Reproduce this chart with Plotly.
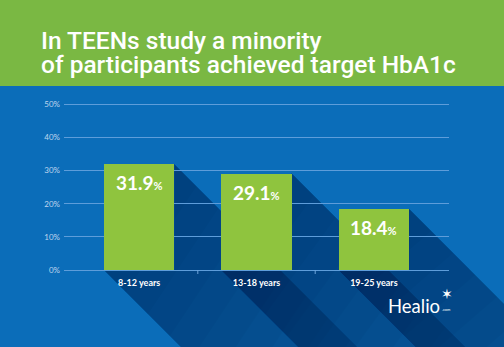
import plotly.graph_objects as go

categories = ["8-12 years", "13-18 years", "19-25 years"]
values = [31.9, 29.1, 18.4]
y_ticks = [0, 10, 20, 30, 40, 50]
y_ticklabels = ["0%", "10%", "20%", "30%", "40%", "50%"]
title_lines = ["In TEENs study a minority", "of participants achieved target HbA1c"]

W_PX, H_PX = 504, 347
M_L, M_R, M_T, M_B = 64, 55, 101, 77
X_RANGE = [-0.64, 2.64]
Y_RANGE = [0, 51]
BAR_W = 0.6

BLUE = "#0B6DB9"
GREEN_HDR = "#7AB843"

plot_w = W_PX - M_L - M_R
plot_h = H_PX - M_T - M_B


def px_x(v):
    return M_L + (v - X_RANGE[0]) / (X_RANGE[1] - X_RANGE[0]) * plot_w


def px_y(v):
    return M_T + plot_h - (v - Y_RANGE[0]) / (Y_RANGE[1] - Y_RANGE[0]) * plot_h


def pxp(x):
    return (x - M_L) / plot_w


def pyp(y):
    return (H_PX - M_B - y) / plot_h


fig = go.Figure()
fig.add_trace(go.Bar(
    x=categories, y=values, width=BAR_W,
    marker=dict(color="#8FC43E", line=dict(width=0)),
    hoverinfo="skip",
))

shapes = []
# header band
shapes.append(dict(type="rect", xref="paper", yref="paper", x0=pxp(-5), x1=pxp(W_PX + 5),
                   y0=pyp(86), y1=pyp(-5), fillcolor=GREEN_HDR, line=dict(width=0), layer="below"))


def shadow_path(i, v, d):
    x0 = px_x(i - BAR_W / 2)
    x1 = px_x(i + BAR_W / 2)
    yt = px_y(v)
    yb = px_y(0)
    pts = [(x1, yt), (x1 + d, yt + d), (x0 + d, yb + d), (x0, yb), (x1, yb)]
    return "M " + " L ".join(f"{pxp(a):.5f},{pyp(b):.5f}" for a, b in pts) + " Z"


# diagonal fading shadows (extrusions of each bar toward the lower right)
for i, v in enumerate(values):
    shapes.append(dict(type="path", xref="paper", yref="paper", path=shadow_path(i, v, 600),
                       fillcolor="rgba(4,25,70,0.18)", line=dict(width=0), layer="below"))
    for k in range(1, 11):
        shapes.append(dict(type="path", xref="paper", yref="paper", path=shadow_path(i, v, 22 * k),
                           fillcolor="rgba(4,25,70,0.043)", line=dict(width=0), layer="below"))
# small tick marks between categories
for b in [0.5, 1.5]:
    shapes.append(dict(type="line", xref="x", yref="paper", x0=b, x1=b,
                       y0=0, y1=pyp(px_y(0) + 4),
                       line=dict(color="#6FA6DC", width=1)))

annotations = []
# title lines
for line, base in zip(title_lines, [51, 75]):
    annotations.append(dict(text=line, xref="paper", yref="paper", x=pxp(39), y=pyp(base + 6),
                            xanchor="left", yanchor="bottom", showarrow=False,
                            font=dict(family="Roboto", size=24.5, color="white", weight=500)))
# value labels
for c, v in zip(categories, values):
    annotations.append(dict(text=f"{v}<span style='font-size:11px'>%</span>", x=c, y=v, xref="x", yref="y",
                            yanchor="top", yshift=-5, showarrow=False,
                            font=dict(family="Lato", size=19, color="white", weight="bold")))
# Healio logo text
annotations.append(dict(text="Healio", xref="paper", yref="paper", x=pxp(386), y=pyp(306),
                        xanchor="left", yanchor="middle", showarrow=False,
                        font=dict(family="Lato", size=18.5, color="white")))
annotations.append(dict(text="✶", xref="paper", yref="paper", x=pxp(439), y=pyp(294),
                        xanchor="left", yanchor="middle", showarrow=False,
                        font=dict(family="DejaVu Sans", size=14, color="white")))
annotations.append(dict(text=".com", xref="paper", yref="paper", x=pxp(440), y=pyp(309),
                        xanchor="left", yanchor="middle", showarrow=False,
                        font=dict(family="Lato", size=4, color="white")))

fig.update_layout(
    width=W_PX, height=H_PX,
    margin=dict(l=M_L, r=M_R, t=M_T, b=M_B, pad=0),
    paper_bgcolor=BLUE, plot_bgcolor="rgba(0,0,0,0)",
    showlegend=False, bargap=0,
    shapes=shapes, annotations=annotations,
    xaxis=dict(range=X_RANGE, showgrid=False, zeroline=False, showline=False, ticks="",
               ticklabelstandoff=6,
               tickfont=dict(family="Lato", size=9, color="white", weight="bold"), fixedrange=True),
    yaxis=dict(range=Y_RANGE, tickvals=y_ticks, ticktext=y_ticklabels, showgrid=True,
               gridcolor="#5E9DDA", gridwidth=1, zeroline=True, zerolinecolor="#5E9DDA", zerolinewidth=1,
               showline=False, ticks="", ticklabelstandoff=3,
               tickfont=dict(family="Lato", size=8, color="#BFD6EE"), fixedrange=True),
)

fig.write_html("out.html")
